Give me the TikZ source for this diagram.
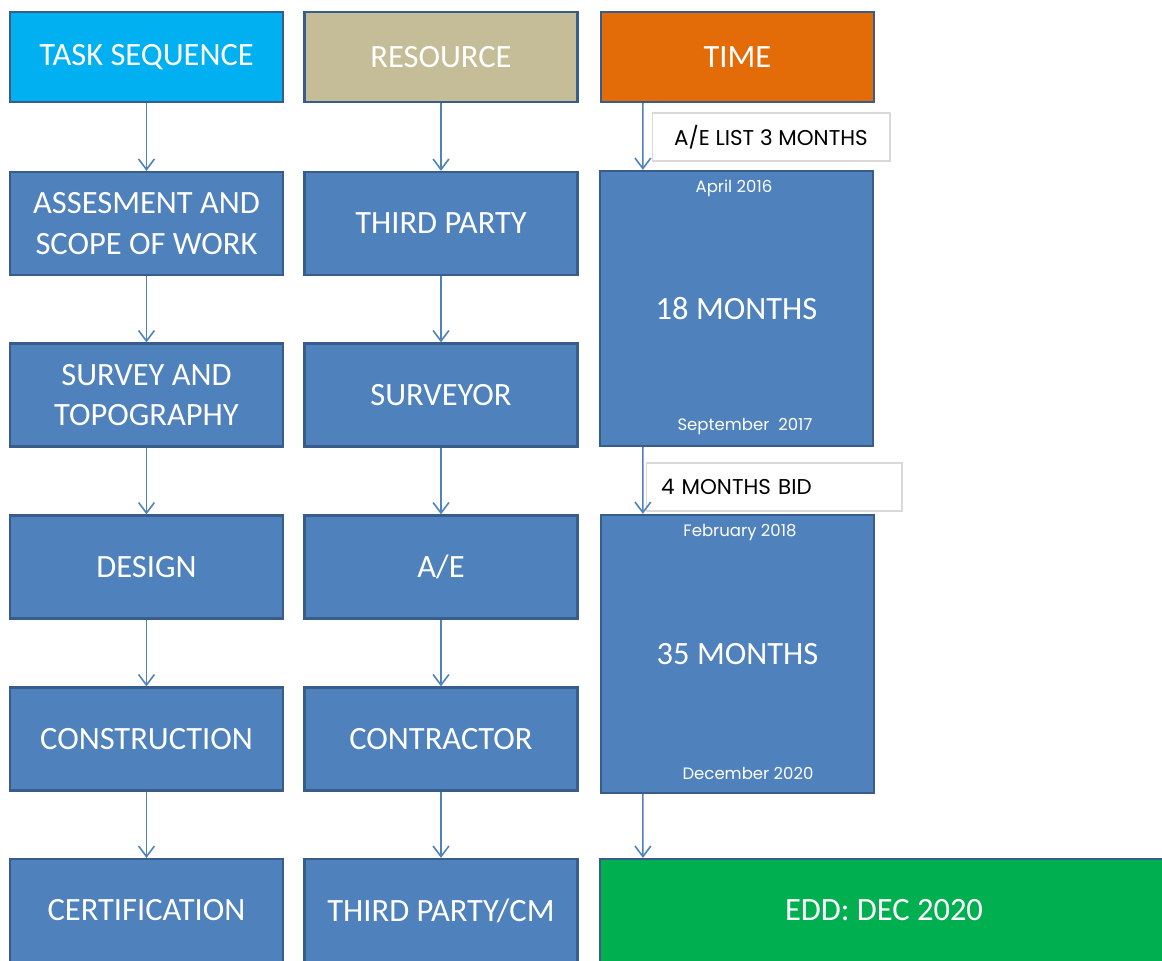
\documentclass[tikz,border=0pt]{standalone}
\usepackage{fontspec}
\setmainfont{Carlito}
\newfontfamily\gothic{Poppins}
\usetikzlibrary{arrows.meta,positioning}
\definecolor{boxblue}{HTML}{4F81BD}
\definecolor{boxline}{HTML}{385D8A}
\definecolor{headcyan}{HTML}{00B0F0}
\definecolor{headtan}{HTML}{C4BD97}
\definecolor{headorange}{HTML}{E36C09}
\definecolor{eddgreen}{HTML}{00B050}

\begin{document}
\begin{tikzpicture}[x=0.02cm,y=-0.02cm,
    box/.style={rectangle,draw=boxline,line width=1.3pt,fill=boxblue,text=white,
      minimum width=5.46cm,minimum height=2.06cm,align=center,inner sep=0pt,
      font=\fontsize{18.5}{23}\selectfont},
    head/.style={box,minimum height=1.8cm},
    note/.style={rectangle,draw=black!15,fill=white,line width=0.6pt,inner sep=0pt,
      font=\gothic\fontsize{12.2}{14}\selectfont},
    date/.style={text=white,inner sep=0pt,font=\gothic\fontsize{9.4}{11}\selectfont},
    flow/.style={draw=boxblue,line width=0.9pt,-{Straight Barb[length=6pt,width=9pt]}}]
                \useasboundingbox (0,0) rectangle (1162,960);
                \clip (0,0) rectangle (1162,960);
                % headers
                \node[head,fill=headcyan] (ts) at (146.5,57) {TASK SEQUENCE};
                \node[head,fill=headtan] (res) at (441,57) {RESOURCE};
                \node[head,fill=headorange] (time) at (737.5,57) {TIME};
                % task sequence
                \node[box] (ass) at (146.5,223.5) {ASSESMENT AND\\SCOPE OF WORK};
                \node[box] (sur) at (146.5,395) {SURVEY AND\\TOPOGRAPHY};
                \node[box] (des) at (146.5,567) {DESIGN};
                \node[box] (con) at (146.5,739) {CONSTRUCTION};
                \node[box] (cer) at (146.5,910.5) {CERTIFICATION};
                % resource
                \node[box] (tp) at (441,223.5) {THIRD PARTY};
                \node[box] (sv) at (441,395) {SURVEYOR};
                \node[box] (ae) at (441,567) {A/E};
                \node[box] (ct) at (441,739) {CONTRACTOR};
                \node[box] (cm) at (441,910.5) {THIRD PARTY/CM};
                % time
                \node[box,minimum height=5.5cm] (m18) at (736.5,308.5) {18 MONTHS};
                \node[box,minimum height=5.56cm] (m35) at (737.5,654) {35 MONTHS};
                \node[box,fill=eddgreen,minimum width=11.36cm] (edd) at (884,910.5) {EDD: DEC 2020};
                \node[date] (apr) at (734,188) {April 2016};
                \node[date] (sep) at (745,427) {September\ \ 2017};
                \node[date] (feb) at (740,533) {February 2018};
                \node[date] (dec) at (748,773) {December 2020};
                \node[note,minimum width=4.76cm,minimum height=0.96cm] (aelist) at (771,137) {A/E LIST 3 MONTHS};
                \node[note,minimum width=5.12cm,minimum height=0.96cm,text width=4.52cm,align=left] (bid) at (774,487) {4 MONTHS BID};
                % arrows
                \draw[flow] (ts) -- (ass);
                \draw[flow] (ass) -- (sur);
                \draw[flow] (sur) -- (des);
                \draw[flow] (des) -- (con);
                \draw[flow] (con) -- (cer);
                \draw[flow] (res) -- (tp);
                \draw[flow] (tp) -- (sv);
                \draw[flow] (sv) -- (ae);
                \draw[flow] (ae) -- (ct);
                \draw[flow] (ct) -- (cm);
                \draw[flow] ([xshift=0.86cm]time.south west) -- ([xshift=0.88cm]m18.north west);
                \draw[flow] ([xshift=0.88cm]m18.south west) -- ([xshift=0.86cm]m35.north west);
                \draw[flow] ([xshift=0.86cm]m35.south west) -- ([xshift=0.88cm]edd.north west);
            \end{tikzpicture}
\end{document}
